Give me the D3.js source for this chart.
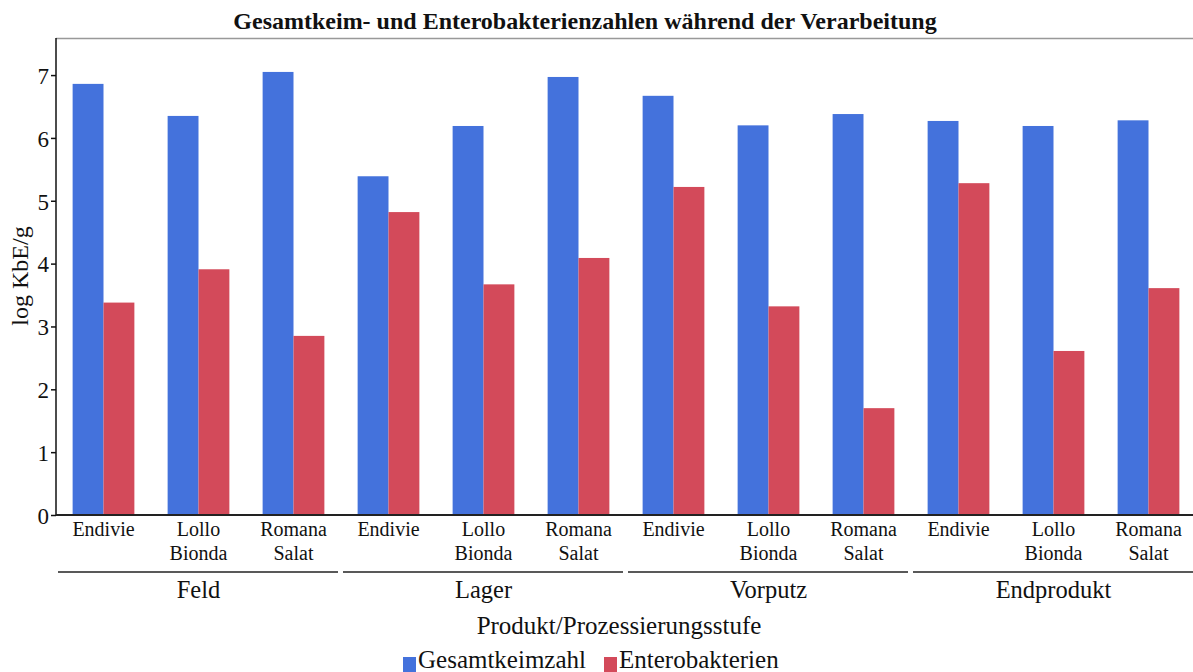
<!DOCTYPE html>
<html>
<head>
<meta charset="utf-8">
<script src="https://cdn.jsdelivr.net/npm/d3@7"></script>
<style>
  body { margin: 0; background: #fff; }
  svg text { font-family: "Palatino Linotype", "Book Antiqua", Palatino, "Liberation Serif", serif; fill: #111; }
</style>
</head>
<body>
<div id="chart"></div>
<script>
// data
var stages = ["Feld", "Lager", "Vorputz", "Endprodukt"];
var products = ["Endivie", "Lollo Bionda", "Romana Salat"];
var gesamtkeimzahl = [6.86, 6.35, 7.05, 5.39, 6.19, 6.97, 6.67, 6.20, 6.38, 6.27, 6.19, 6.28];
var enterobakterien = [3.38, 3.91, 2.85, 4.82, 3.67, 4.09, 5.22, 3.32, 1.70, 5.28, 2.61, 3.61];
var seriesNames = ["Gesamtkeimzahl", "Enterobakterien"];
var yTicks = [0, 1, 2, 3, 4, 5, 6, 7];

var W = 1193, H = 672;
var margin = {top: 38, right: -3, bottom: 157, left: 56};
var width = W - margin.left - margin.right,
    height = H - margin.top - margin.bottom;

var colors = {Gesamtkeimzahl: "#4472dc", Enterobakterien: "#d34a5a"};

// one row per bar group
var rows = [];
stages.forEach(function(s, i) {
  products.forEach(function(p, j) {
    var k = i * products.length + j;
    rows.push({key: s + "|" + p, stage: s, product: p,
               Gesamtkeimzahl: gesamtkeimzahl[k], Enterobakterien: enterobakterien[k]});
  });
});

var svg = d3.select("#chart").append("svg")
    .attr("width", W).attr("height", H);

var g = svg.append("g")
    .attr("transform", "translate(" + margin.left + "," + margin.top + ")");

var x0 = d3.scaleBand()
    .domain(rows.map(d => d.key))
    .range([0, width])
    .paddingInner(0.35)
    .paddingOuter(0.175);

var x1 = d3.scaleBand()
    .domain(seriesNames)
    .range([0, x0.bandwidth()]);

var y = d3.scaleLinear().domain([0, 7.59]).range([height, 0]);

// top frame line
g.append("line")
    .attr("x1", 0).attr("x2", W - margin.left)
    .attr("y1", 0.5).attr("y2", 0.5)
    .attr("stroke", "#999").attr("stroke-width", 1.5);

// bars
var groups = g.selectAll(".grp")
  .data(rows)
  .join("g")
    .attr("class", "grp")
    .attr("transform", d => "translate(" + x0(d.key) + ",0)");

groups.selectAll("rect")
  .data(d => seriesNames.map(n => ({name: n, value: d[n]})))
  .join("rect")
    .attr("x", d => x1(d.name))
    .attr("width", x1.bandwidth())
    .attr("y", d => y(d.value))
    .attr("height", d => y(0) - y(d.value))
    .attr("fill", d => colors[d.name]);

// y axis
var yAxis = g.append("g")
    .call(d3.axisLeft(y).tickValues(yTicks).tickSize(5).tickFormat(d3.format("d")));
yAxis.select(".domain").attr("stroke", "#111").attr("stroke-width", 1.5)
    .attr("d", "M0," + height + "V0");
yAxis.selectAll(".tick line").attr("stroke", "#111").attr("stroke-width", 1.5);
yAxis.selectAll(".tick text")
    .attr("x", -7)
    .style("font-size", "23px")
    .attr("dy", "0.36em");

// x baseline
g.append("line")
    .attr("x1", 0).attr("x2", W - margin.left)
    .attr("y1", height).attr("y2", height)
    .attr("stroke", "#222").attr("stroke-width", 2);

// product labels (two lines)
var lab = g.selectAll(".plab")
  .data(rows)
  .join("text")
    .attr("class", "plab")
    .attr("text-anchor", "middle")
    .attr("transform", d => "translate(" + (x0(d.key) + x0.bandwidth() / 2) + "," + (height + 21) + ")")
    .style("font-size", "20px");
lab.selectAll("tspan")
  .data(d => d.product.split(" "))
  .join("tspan")
    .attr("x", 0)
    .attr("dy", (d, i) => i === 0 ? 0 : 24)
    .text(d => d);

// stage brackets and labels
var stageW = x0.step() * products.length;
stages.forEach(function(s, i) {
  var first = x0(s + "|" + products[0]) - x0.step() * x0.paddingInner() / 2;
  g.append("line")
    .attr("x1", first + 2).attr("x2", first + stageW - 3)
    .attr("y1", height + 57).attr("y2", height + 57)
    .attr("stroke", "#222").attr("stroke-width", 1.5);
  g.append("text")
    .attr("x", first + stageW / 2)
    .attr("y", height + 83)
    .attr("text-anchor", "middle")
    .style("font-size", "24.5px")
    .text(s);
});

// axis titles
svg.append("text")
    .attr("x", 619).attr("y", 634)
    .attr("text-anchor", "middle")
    .style("font-size", "25px")
    .text("Produkt/Prozessierungsstufe");

svg.append("text")
    .attr("transform", "translate(28,276) rotate(-90)")
    .attr("text-anchor", "middle")
    .style("font-size", "24px")
    .text("log KbE/g");

svg.append("text")
    .attr("x", 585).attr("y", 29)
    .attr("text-anchor", "middle")
    .style("font-size", "24px")
    .style("font-weight", "bold")
    .text("Gesamtkeim- und Enterobakterienzahlen während der Verarbeitung");

// legend
var legendX = [403, 604];
var leg = svg.selectAll(".leg")
  .data(seriesNames)
  .join("g")
    .attr("class", "leg")
    .attr("transform", (d, i) => "translate(" + legendX[i] + ",657)");
leg.append("rect")
    .attr("width", 13).attr("height", 16)
    .attr("fill", d => colors[d]);
leg.append("text")
    .attr("x", 15).attr("y", 11)
    .style("font-size", "25px")
    .text(d => d);
</script>
</body>
</html>
